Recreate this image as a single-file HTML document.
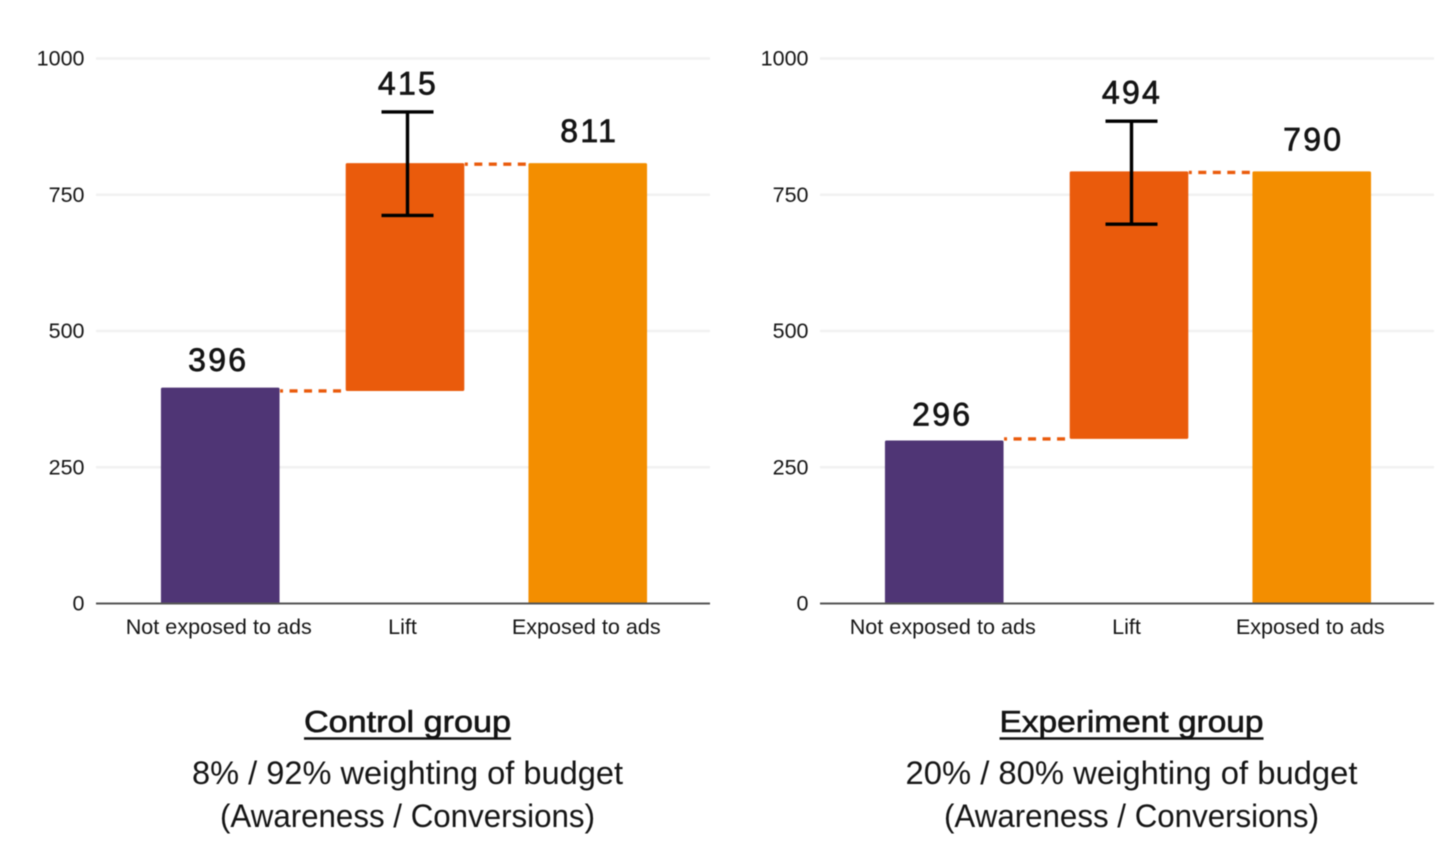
<!DOCTYPE html>
<html lang="en">
<head>
<meta charset="utf-8">
<title>Control vs Experiment group</title>
<style>
html,body{margin:0;padding:0;background:#fff;width:1456px;height:853px;overflow:hidden}
svg{display:block;filter:blur(0.55px)}
text{font-family:"Liberation Sans",sans-serif;fill:#151515}
</style>
</head>
<body>
<svg id="chart" xmlns="http://www.w3.org/2000/svg" width="1456" height="853" viewBox="0 0 1456 853"></svg>
<script>
const categories = ['Not exposed to ads', 'Lift', 'Exposed to ads'];
const yTicks = [0, 250, 500, 750, 1000];

const controlBarBase = [0, 390, 0];
const controlBarTop = [396, 808, 808];
const controlLabels = [396, 415, 811];
const controlErrorHigh = 902;
const controlErrorLow = 712;

const experimentBarBase = [0, 302, 0];
const experimentBarTop = [299, 793, 793];
const experimentLabels = [296, 494, 790];
const experimentErrorHigh = 885;
const experimentErrorLow = 696;

const barColors = ['#4f3575', '#ea5b0c', '#f38e00'];
const svg = document.getElementById('chart');
const NS = 'http://www.w3.org/2000/svg';
const Y0 = 603.5, Y1 = 58.5, YMAX = 1000;
const yScale = v => Y0 - (v / YMAX) * (Y0 - Y1);

function el(tag, attrs, parent, txt) {
  const e = document.createElementNS(NS, tag);
  for (const k in attrs) e.setAttribute(k, attrs[k]);
  if (txt !== undefined) e.textContent = txt;
  parent.appendChild(e);
  return e;
}

function drawPanel(dx, prefix, base, top, labels, errHigh, errLow, title, sub1, sub2, titleW, sub1W, sub2W) {
  const g = el('g', {}, svg);
  
  
  const xBand = i => dx + 220.75 + i * 183.75;
  const barNudge = i => (i === 1 ? 0.5 : -0.5);
  const barW = 118.6;

  yTicks.forEach(t => {
    if (t !== 0) {
      const gl = el('line', {x1: dx + 96, x2: dx + 710, y1: yScale(t), y2: yScale(t), stroke: '#f1f1f1', 'stroke-width': 2.4}, g);
      
      
    }
    const tl = el('text', {x: dx + 84.5, y: yScale(t) + 7, 'text-anchor': 'end', 'font-size': 21.5, fill: '#222'}, g, t);
    
    
  });

  categories.forEach((c, i) => {
    const x = xBand(i);
    const r = el('rect', {x: x + barNudge(i) - barW / 2, y: yScale(top[i]), width: barW, height: yScale(base[i]) - yScale(top[i]), fill: barColors[i], rx: 1.5}, g);
    
    
    const cl = el('text', {x: x - 2, y: 634, 'text-anchor': 'middle', 'font-size': 21.6, fill: '#222'}, g, c);
    
    
  });

  [[0, 1, base[1]], [1, 2, top[1] - 2]].forEach(p => {
    const y = yScale(p[2]);
    const d = el('line', {x1: xBand(p[0]) + barNudge(p[0]) + barW / 2 + 0.5, x2: xBand(p[1]) + barNudge(p[1]) - barW / 2, y1: y, y2: y, stroke: '#ea5b0c', 'stroke-width': 3.4, 'stroke-dasharray': '8 6.5', 'stroke-dashoffset': 5}, g);
    
    
  });

  const ex = xBand(1) + 3;
  const eb = el('g', {stroke: '#000', 'stroke-width': 3.4}, g);
  
  
  el('line', {x1: ex, x2: ex, y1: yScale(errHigh), y2: yScale(errLow)}, eb);
  el('line', {x1: ex - 26, x2: ex + 26, y1: yScale(errHigh), y2: yScale(errHigh)}, eb);
  el('line', {x1: ex - 26, x2: ex + 26, y1: yScale(errLow), y2: yScale(errLow)}, eb);

  const labelY = [yScale(labels[0]) - 16.5, yScale(errHigh) - 17.5, yScale(top[2]) - 21];
  const labelDx = [-2.5, 3.5, 1];
  labels.forEach((v, i) => {
    const vl = el('text', {x: xBand(i) + labelDx[i], y: labelY[i], 'text-anchor': 'middle', 'font-size': 32, 'letter-spacing': 2.3, stroke: '#111', 'stroke-width': 0.7, fill: '#111'}, g, v);
    
    
  });

  const cx = dx + 407.5;
  const tt = el('text', {x: cx, y: 732, 'text-anchor': 'middle', 'font-size': 31, textLength: titleW, lengthAdjust: 'spacingAndGlyphs', stroke: '#111', 'stroke-width': 0.6, fill: '#111'}, g, title);
  
  
  const ul = el('line', {x1: cx - titleW / 2, x2: cx + titleW / 2, y1: 738.5, y2: 738.5, stroke: '#111', 'stroke-width': 2.6}, g);
  
  
  const s1 = el('text', {x: cx, y: 784, 'text-anchor': 'middle', 'font-size': 32.5, textLength: sub1W, lengthAdjust: 'spacingAndGlyphs'}, g, sub1);
  
  
  const s2 = el('text', {x: cx, y: 827, 'text-anchor': 'middle', 'font-size': 32.5, textLength: sub2W, lengthAdjust: 'spacingAndGlyphs'}, g, sub2);
  
  

  const ax = el('line', {x1: dx + 96, x2: dx + 710, y1: Y0, y2: Y0, stroke: '#555', 'stroke-width': 2}, g);
  
  
}

drawPanel(0, 'control', controlBarBase, controlBarTop, controlLabels, controlErrorHigh, controlErrorLow,
  'Control group', '8% / 92% weighting of budget', '(Awareness / Conversions)', 207, 431, 375);
drawPanel(724, 'experiment', experimentBarBase, experimentBarTop, experimentLabels, experimentErrorHigh, experimentErrorLow,
  'Experiment group', '20% / 80% weighting of budget', '(Awareness / Conversions)', 264, 452, 375);
</script>
</body>
</html>
